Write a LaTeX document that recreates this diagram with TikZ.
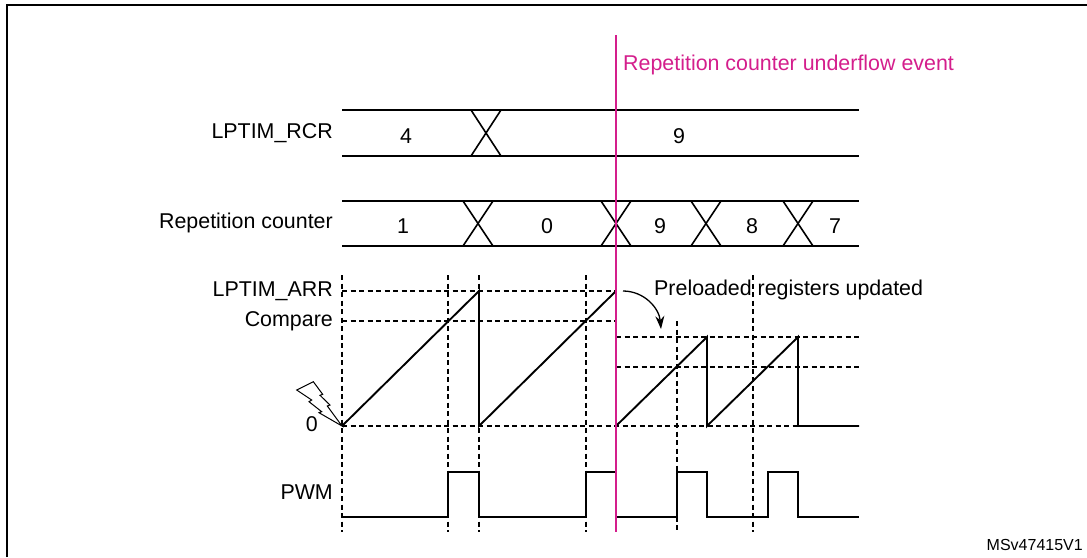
\documentclass[tikz,border=0pt]{standalone}
\usepackage{fontspec}
\setmainfont{Liberation Sans}
\usetikzlibrary{arrows.meta}
\definecolor{stpink}{RGB}{212,30,140}
\begin{document}
\begin{tikzpicture}[x=1pt,y=-1pt,
  lbl/.style={font=\fontsize{21.4}{25}\selectfont, inner sep=0pt},
  smalllbl/.style={font=\fontsize{16}{19}\selectfont, inner sep=0pt},
  sig/.style={line width=1.9pt, line join=miter},
  guide/.style={line width=1.1pt, dash pattern=on 5pt off 3.5pt},
  cross/.style={line width=1.6pt},
  event/.style={line width=1.3pt, draw=stpink}]
\useasboundingbox (0,0) rectangle (1087,557);

% frame
\draw[line width=2.6pt] (7,557) -- (7,5) -- (1087,5);

% ---- row labels
\node[lbl, anchor=mid east] (lrcr) at (333,136) {LPTIM\_RCR};
\node[lbl, anchor=mid east] (lrep) at (333,226) {Repetition counter};
\node[lbl, anchor=mid east] (larr) at (333,294) {LPTIM\_ARR};
\node[lbl, anchor=mid east] (lcmp) at (333,324) {Compare};
\node[lbl, anchor=mid east] (lzero) at (318,429) {0};
\node[lbl, anchor=mid east] (lpwm) at (333,497) {PWM};

% ---- LPTIM_RCR bus
\draw[sig] (342,110) -- (859,110);
\draw[sig] (342,156) -- (859,156);
\draw[cross] (471,110) -- (501,156);
\draw[cross] (501,110) -- (471,156);
\node[lbl] (rcr4) at (406,136) {4};
\node[lbl] (rcr9) at (679,136) {9};

% ---- Repetition counter bus
\draw[sig] (342,201) -- (859,201);
\draw[sig] (342,246) -- (859,246);
\foreach \cx in {478,616,706,798}{
  \draw[cross] (\cx-15,201) -- (\cx+15,246);
  \draw[cross] (\cx+15,201) -- (\cx-15,246);
}
\node[lbl] (rep1) at (403,226) {1};
\node[lbl] (rep0) at (547,226) {0};
\node[lbl] (rep9) at (660,226) {9};
\node[lbl] (rep8) at (752,226) {8};
\node[lbl] (rep7) at (835,226) {7};

% ---- guide lines (dashed)
\foreach \gx in {342,448,479,586,753}{
  \draw[guide] (\gx,275) -- (\gx,532);
}
\draw[guide] (677,321) -- (677,532);
\draw[guide] (342,291) -- (616,291);
\draw[guide] (342,321) -- (616,321);
\draw[guide] (616,337) -- (859,337);
\draw[guide] (616,367) -- (859,367);
\draw[guide] (342,426) -- (798,426);

% ---- counter sawtooth
\coordinate (o) at (342,426);
\draw[sig] (o) -- (479,291) -- (479,426) -- (616,291) -- (616,426)
  -- (707,337) -- (707,426) -- (798,337) -- (798,426) -- (859,426);

% ---- PWM
\draw[sig] (342,517) -- (448,517) -- (448,472) -- (479,472) -- (479,517)
  -- (586,517) -- (586,472) -- (616,472) -- (616,517)
  -- (677,517) -- (677,472) -- (707,472) -- (707,517)
  -- (768,517) -- (768,472) -- (798,472) -- (798,517) -- (859,517);

% ---- trigger (lightning)
\draw[line width=1pt, fill=white, line join=miter]
  (296.7,390) -- (313.3,381.7) -- (322.7,394.3) -- (320,395.3)
  -- (330,405) -- (327.3,406) -- (o) -- (319,412.7) -- (321.7,411.7)
  -- (309,401.7) -- (311.7,400) -- cycle;

% ---- repetition counter underflow event
\draw[event] (616,35) -- (616,532);
\node[lbl, text=stpink, anchor=mid west] (evt) at (623,68) {Repetition counter underflow event};

% ---- preloaded registers updated
\coordinate (a1) at (623,291);
\coordinate (a2) at (661,329);
\draw[line width=1.3pt, -{Stealth[length=13pt,width=9pt]}] (a1) to[out=0,in=95] (a2);
\node[lbl, anchor=mid west] (pre) at (654,293) {Preloaded registers updated};

% ---- reference
\node[smalllbl, anchor=mid east] (ref) at (1083,548) {MSv47415V1};
\end{tikzpicture}
\end{document}
